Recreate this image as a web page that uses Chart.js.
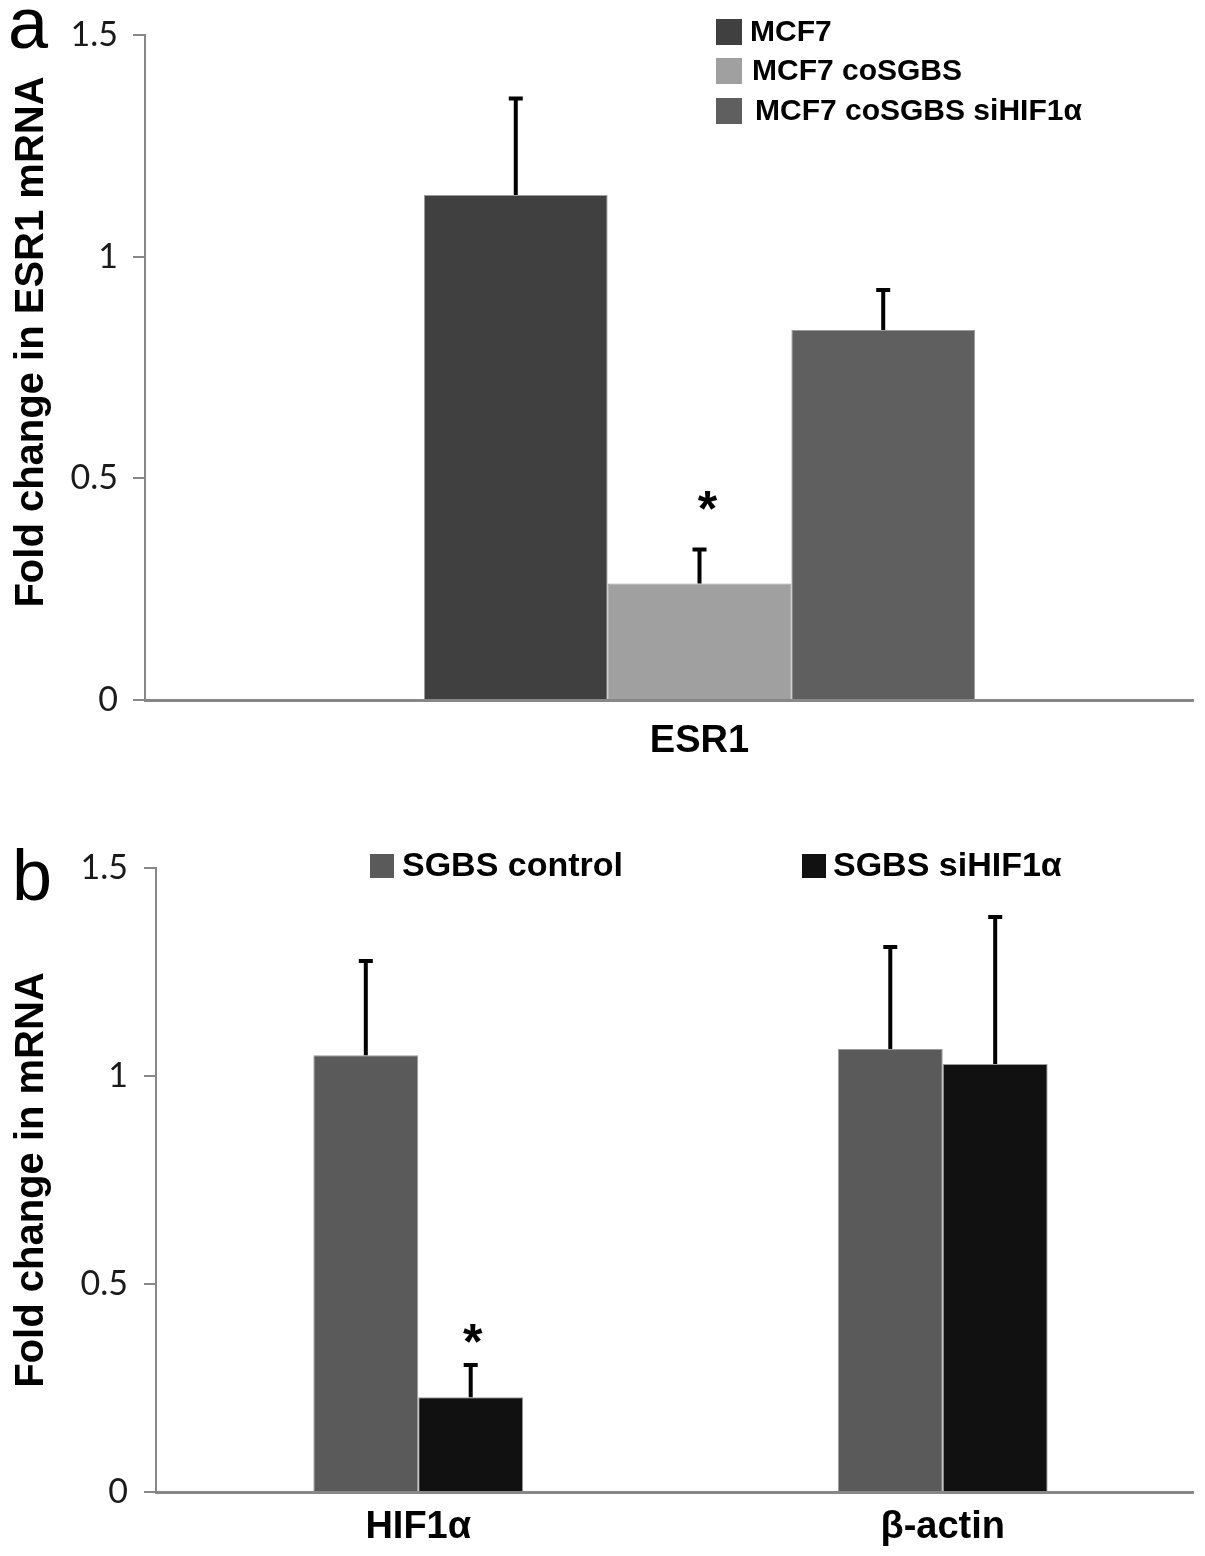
<!DOCTYPE html>
<html>
<head>
<meta charset="utf-8">
<script src="https://cdn.jsdelivr.net/npm/chart.js@4.4.1/dist/chart.umd.min.js"></script>
<style>
  html, body { margin: 0; padding: 0; background: #fff; width: 1205px; height: 1556px; overflow: hidden; }
  .panel { position: absolute; left: 0; overflow: hidden; }
  #wrapA { top: 0; width: 1194px; height: 780px; }
  #wrapB { top: 780px; width: 1194px; height: 776px; }
  canvas { display: block; }
</style>
</head>
<body>
<div class="panel" id="wrapA"><canvas id="chartA" width="1260" height="780"></canvas></div>
<div class="panel" id="wrapB"><canvas id="chartB" width="1211" height="776"></canvas></div>
<script>
// panel a: ESR1 expression
const esrCategories = ["ESR1"];
const esrSeries = ["MCF7", "MCF7 coSGBS", "MCF7 coSGBS siHIF1α"];
const esrMeans = [1.14, 0.263, 0.835];
const esrErrors = [0.222, 0.081, 0.095];

// panel b: HIF1α knockdown in SGBS
const mrnaCategories = ["HIF1α", "β-actin"];
const mrnaSeries = ["SGBS control", "SGBS siHIF1α"];
const controlMeans = [1.05, 1.065];
const controlErrors = [0.231, 0.25];
const siMeans = [0.228, 1.029];
const siErrors = [0.082, 0.358];

const yTicks = [0, 0.5, 1, 1.5];
const yTickLabels = ["0", "0.5", "1", "1.5"];

const AXIS_GREY = "#878787";
const BOLD = "'Liberation Sans', Arial, sans-serif";

// error bars, asterisks, legend, y title and panel letter
const extras = {
  id: "extras",
  afterDatasetsDraw(chart, args, opts) {
    const ctx = chart.ctx;
    const yScale = chart.scales.y;
    ctx.save();
    ctx.strokeStyle = "#000";
    ctx.lineWidth = 4;
    chart.data.datasets.forEach((ds, i) => {
      chart.getDatasetMeta(i).data.forEach((bar, j) => {
        const top = yScale.getPixelForValue(ds.data[j] + ds.errors[j]);
        ctx.beginPath();
        ctx.moveTo(bar.x, bar.y);
        ctx.lineTo(bar.x, top);
        ctx.moveTo(bar.x - 7, top + 2);
        ctx.lineTo(bar.x + 7, top + 2);
        ctx.stroke();
      });
    });
    ctx.fillStyle = "#000";
    ctx.font = "bold 50px " + BOLD;
    ctx.textAlign = "center";
    ctx.textBaseline = "alphabetic";
    const m = ctx.measureText("*");
    const shift = (m.actualBoundingBoxAscent - m.actualBoundingBoxDescent) / 2;
    (opts.stars || []).forEach(s => {
      const ds = chart.data.datasets[s.dataset];
      const bar = chart.getDatasetMeta(s.dataset).data[s.index];
      const top = yScale.getPixelForValue(ds.data[s.index] + ds.errors[s.index]);
      ctx.fillText("*", bar.x + s.dx, top - s.gap + shift);
    });
    ctx.restore();
  },
  afterDraw(chart, args, opts) {
    const ctx = chart.ctx;
    ctx.save();
    const lg = opts.legend;
    ctx.font = "bold " + lg.size + "px " + BOLD;
    ctx.textBaseline = "middle";
    ctx.textAlign = "left";
    chart.data.datasets.forEach((ds, i) => {
      const p = lg.items[i];
      ctx.fillStyle = ds.backgroundColor;
      ctx.fillRect(p.x, p.y - lg.box / 2, lg.box, lg.box);
      ctx.fillStyle = "#000";
      ctx.fillText(ds.label, p.tx, p.y + 1);
    });

    const t = opts.yTitle;
    ctx.save();
    ctx.translate(t.x, t.y);
    ctx.rotate(-Math.PI / 2);
    ctx.font = "bold 40px " + BOLD;
    ctx.textAlign = "center";
    ctx.textBaseline = "middle";
    ctx.fillText(t.text, 0, 0);
    ctx.restore();

    ctx.font = "72px " + BOLD;
    ctx.textBaseline = "alphabetic";
    ctx.textAlign = "left";
    ctx.fillText(opts.letter.text, opts.letter.x, opts.letter.y);
    ctx.restore();
  }
};

function makeChart(id, cfg) {
  return new Chart(document.getElementById(id), {
    type: "bar",
    data: { labels: cfg.labels, datasets: cfg.datasets },
    options: {
      responsive: false,
      animation: false,
      layout: { padding: cfg.padding },
      datasets: { bar: { categoryPercentage: cfg.groupWidth, barPercentage: 1, borderWidth: 1, borderColor: "#9c9c9c" } },
      plugins: {
        legend: { display: false },
        tooltip: { enabled: false },
        extras: cfg.extras
      },
      scales: {
        x: {
          afterFit: s => { s.height = cfg.xHeight; },
          grid: { display: false, drawTicks: false },
          border: { display: true, color: AXIS_GREY, width: 3 },
          ticks: { color: "#000", padding: cfg.xPad, font: { family: BOLD, size: 38, weight: "bold" } }
        },
        y: {
          min: 0,
          max: 1.5,
          afterFit: s => { s.width = cfg.yWidth; },
          afterBuildTicks: s => { s.ticks = yTicks.map(v => ({ value: v })); },
          grid: { drawOnChartArea: false, drawTicks: true, tickLength: 12, color: AXIS_GREY, lineWidth: 2 },
          border: { display: true, color: AXIS_GREY, width: 2 },
          ticks: {
            color: "#1a1a1a",
            padding: cfg.yPad,
            font: { family: "Lato, 'Open Sans', sans-serif", size: 34 },
            callback: v => yTickLabels[yTicks.indexOf(v)]
          }
        }
      }
    },
    plugins: [extras]
  });
}

makeChart("chartA", {
  labels: esrCategories,
  datasets: [
    { label: esrSeries[0], data: [esrMeans[0]], errors: [esrErrors[0]], backgroundColor: "#404040" },
    { label: esrSeries[1], data: [esrMeans[1]], errors: [esrErrors[1]], backgroundColor: "#a0a0a0" },
    { label: esrSeries[2], data: [esrMeans[2]], errors: [esrErrors[2]], backgroundColor: "#5f5f5f" }
  ],
  padding: { left: 0, top: 32, right: 6, bottom: 0 },
  groupWidth: 0.497,
  xHeight: 80,
  xPad: 19,
  yWidth: 145,
  yPad: 15,
  extras: {
    yTitle: { text: "Fold change in ESR1 mRNA", x: 32, y: 342 },
    stars: [{ dataset: 1, index: 0, dx: 8, gap: 47 }],
    legend: {
      size: 30,
      box: 26,
      items: [
        { x: 716, y: 32, tx: 750 },
        { x: 716, y: 71, tx: 752 },
        { x: 716, y: 111, tx: 755 }
      ]
    },
    letter: { text: "a", x: 8, y: 48 }
  }
});

makeChart("chartB", {
  labels: mrnaCategories,
  datasets: [
    { label: mrnaSeries[0], data: controlMeans, errors: controlErrors, backgroundColor: "#5a5a5a" },
    { label: mrnaSeries[1], data: siMeans, errors: siErrors, backgroundColor: "#111111" }
  ],
  padding: { left: 0, top: 88, right: 6, bottom: 0 },
  groupWidth: 0.4,
  xHeight: 64,
  xPad: 13,
  yWidth: 156,
  yPad: 16,
  extras: {
    yTitle: { text: "Fold change in mRNA", x: 32, y: 400 },
    stars: [{ dataset: 1, index: 0, dx: 2, gap: 30 }],
    legend: {
      size: 34,
      box: 24,
      items: [
        { x: 370, y: 86, tx: 402 },
        { x: 802, y: 86, tx: 833 }
      ]
    },
    letter: { text: "b", x: 12, y: 120 }
  }
});
</script>
</body>
</html>
